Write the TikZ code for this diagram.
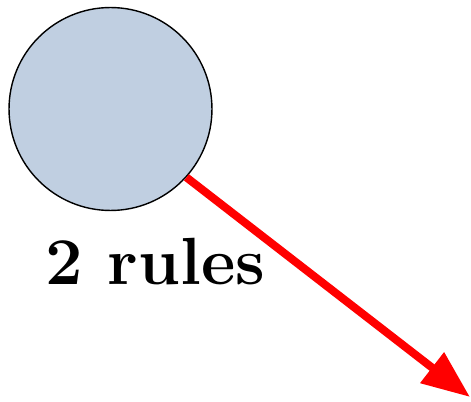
\documentclass[tikz,border=0pt]{standalone}
\usepackage{tikz}
\usetikzlibrary{arrows.meta}
\usepackage{xcolor}
\definecolor{ballblue}{RGB}{192,207,225}

\begin{document}
\begin{tikzpicture}[x=0.02cm, y=-0.02cm,
		ball/.style={circle, draw=black, line width=0.8pt, fill=ballblue, minimum size=4.06cm, inner sep=0pt},
		push/.style={red, line width=0.16cm, -{Triangle[length=0.96cm, width=0.74cm]}}]
		\useasboundingbox (0,0) rectangle (471,402);
		
		\node [ball] (ball) at (110.5,109) {};
		
		\node [font=\fontsize{38}{44}\selectfont\bfseries] (rules) at (155,262) {2 rules};
		
		\coordinate (tip) at (470,397);
		
		\draw [push] (ball.-42) -- (tip);
	\end{tikzpicture}
\end{document}
